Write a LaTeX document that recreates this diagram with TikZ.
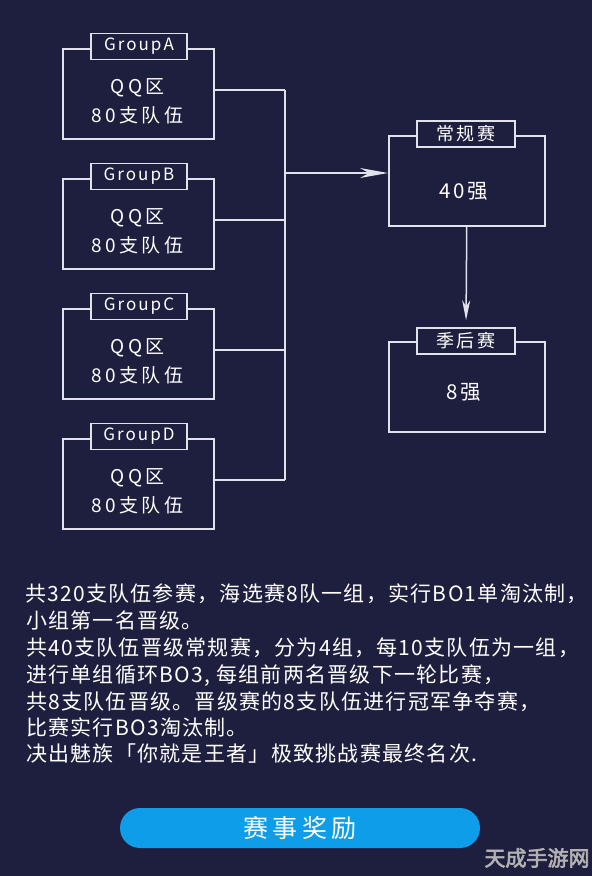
\documentclass[tikz,border=0pt]{standalone}
\usepackage{fontspec}
\setmainfont{Noto Sans CJK SC}
\newfontfamily\cjk{Noto Sans CJK SC}
\newfontfamily\cjksp[LetterSpace=18]{Noto Sans CJK SC}
\newfontfamily\cjkbig[LetterSpace=12]{Noto Sans CJK SC}
\newfontfamily\cjktag[LetterSpace=12]{Noto Sans CJK SC}
\newfontfamily\cjkbody[LetterSpace=6]{Noto Sans CJK SC}
\newfontfamily\cjkwm[FakeBold=3]{Noto Sans CJK SC}
\usetikzlibrary{arrows.meta}
\definecolor{bg}{RGB}{30,30,62}
\definecolor{ln}{RGB}{226,226,234}
\definecolor{btn}{RGB}{14,157,232}
\definecolor{wm}{RGB}{178,178,178}
\tikzset{
  box/.style={draw=ln, line width=1.5pt, minimum width=151pt, minimum height=90pt, inner sep=0pt, anchor=north west},
  bigbox/.style={draw=ln, line width=1.5pt, minimum width=156pt, minimum height=90pt, inner sep=0pt, anchor=north west},
  tag/.style={draw=ln, fill=bg, line width=1.5pt, minimum width=96pt, minimum height=26pt, inner sep=0pt, text=white, font=\cjktag\fontsize{17}{20}\selectfont},
  ttag/.style={tag, minimum width=98pt, font=\cjktag\fontsize{18}{20}\selectfont},
  body/.style={text=white, inner sep=0pt, font=\cjksp\fontsize{19}{20}\selectfont},
  rank/.style={text=white, inner sep=0pt, font=\cjkbig\fontsize{20.5}{22}\selectfont},
  para/.style={text=white, inner sep=0pt, anchor=base west, font=\cjkbody\fontsize{21}{24}\selectfont},
  wire/.style={draw=ln, line width=1.5pt},
}
\begin{document}
\begin{tikzpicture}[x=1pt,y=-1pt]
\fill[bg] (0,0) rectangle (592,876);
\useasboundingbox (0,0) rectangle (592,876);
% groups
\foreach \n/\i in {A/0,B/1,C/2,D/3}{
  \pgfmathsetmacro{\t}{48+130*\i}
  \node[box] (g\n) at (62,\t) {};
  \node[tag] (lab\n) at (139,\t-1.5) {Group\n};
  \node[body] (q\n) at (137.5,\t+40) {QQ区};
  \node[body] (n\n) at (137.5,\t+67) {80支队伍};
  \coordinate (c\n) at (285,\t+42);
  \draw[wire] (g\n.east |- c\n) -- (c\n);
}
\draw[wire] (cA) -- (cD);
% regular season
\node[bigbox] (reg) at (388,135) {};
\node[ttag] (regl) at (466,134) {常规赛};
\node[rank] (regt) at (464,191) {40强};
% playoffs
\node[bigbox] (po) at (388,341) {};
\node[ttag] (pol) at (466,341) {季后赛};
\node[rank] (pot) at (464,392) {8强};
% arrows
\coordinate (j) at (285,173);
\draw[wire, -{Stealth[length=28pt,width=10pt,inset=9pt]}] (j) -- (j -| reg.west);
\draw[wire, shorten >=7pt, -{Stealth[length=20pt,width=8pt,inset=6pt]}] (reg.south) -- (pol.north);
% paragraph
\node[para] (l1) at (25,601) {共320支队伍参赛，海选赛8队一组，实行BO1单淘汰制，};
\node[para] (l2) at (26,628) {小组第一名晋级。};
\node[para] (l3) at (26,655) {共40支队伍晋级常规赛，分为4组，每10支队伍为一组，};
\node[para] (l4) at (26,682) {进行单组循环BO3, 每组前两名晋级下一轮比赛，};
\node[para] (l5) at (26,709) {共8支队伍晋级。晋级赛的8支队伍进行冠军争夺赛，};
\node[para] (l6) at (26,735) {比赛实行BO3淘汰制。};
\node[para] (l7) at (26,761) {决出魅族「你就是王者」极致挑战赛最终名次.};
% button
\node[fill=btn, rounded corners=20pt, minimum width=360pt, minimum height=40pt, inner sep=0pt, text=white, font=\cjksp\fontsize{25}{27}\selectfont] (btn) at (300,828) {赛事奖励};
% watermark
\node[text=wm, inner sep=0pt, font=\cjkwm\fontsize{21}{22}\selectfont] (wmk) at (537,858) {天成手游网};
\end{tikzpicture}
\end{document}
